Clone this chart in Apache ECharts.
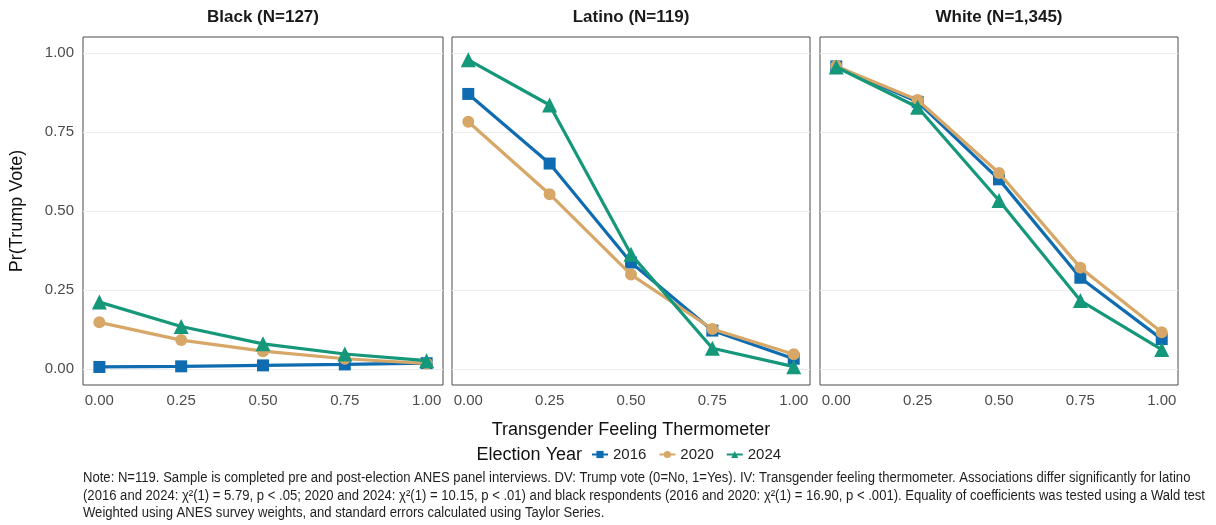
<!DOCTYPE html>
<html>
<head>
<meta charset="utf-8">
<script src="https://cdn.jsdelivr.net/npm/echarts@6/dist/echarts.min.js"></script>
<style>
  html, body { margin: 0; padding: 0; background: #ffffff; }
  #chart { width: 1216px; height: 525px; }
</style>
</head>
<body>
<div id="chart"></div>
<script>
// Thermometer positions (x) shared by every panel
const thermometer = [0, 0.25, 0.5, 0.75, 1];
const tickValues = [0, 0.25, 0.5, 0.75, 1];

const panelTitles = ['Black (N=127)', 'Latino (N=119)', 'White (N=1,345)'];
const years = ['2016', '2020', '2024'];

// Predicted Pr(Trump vote) by election year, one array per panel
const black2016 = [0.007, 0.009, 0.012, 0.015, 0.019];
const black2020 = [0.148, 0.092, 0.057, 0.033, 0.018];
const black2024 = [0.212, 0.135, 0.080, 0.048, 0.027];

const latino2016 = [0.870, 0.650, 0.337, 0.122, 0.033];
const latino2020 = [0.782, 0.553, 0.299, 0.127, 0.047];
const latino2024 = [0.978, 0.835, 0.363, 0.066, 0.008];

const white2016 = [0.957, 0.845, 0.600, 0.289, 0.095];
const white2020 = [0.958, 0.851, 0.620, 0.321, 0.117];
const white2024 = [0.955, 0.828, 0.533, 0.217, 0.062];

const panelData = [
  [black2016, black2020, black2024],
  [latino2016, latino2020, latino2024],
  [white2016, white2020, white2024]
];

const noteLines = [
  'Note: N=119. Sample is completed pre and post-election ANES panel interviews. DV: Trump vote (0=No, 1=Yes). IV: Transgender feeling thermometer. Associations differ significantly for latino',
  '(2016 and 2024: \u03c7\u00b2(1) = 5.79, p < .05; 2020 and 2024: \u03c7\u00b2(1) = 10.15, p < .01) and black respondents (2016 and 2020: \u03c7\u00b2(1) = 16.90, p < .001). Equality of coefficients was tested using a Wald test',
  'Weighted using ANES survey weights, and standard errors calculated using Taylor Series.'
];

const colors = { '2016': '#106cb0', '2020': '#d6a767', '2024': '#15977a' };
const symbols = { '2016': 'rect', '2020': 'circle', '2024': 'triangle' };
const symbolSizes = { '2016': 12, '2020': 12, '2024': 15 };

const FONT = '"Liberation Sans", Arial, Helvetica, sans-serif';

// Panel placement
const panels = [
  { left: 83, width: 360 },
  { left: 452, width: 358 },
  { left: 820, width: 358 }
];
const gridTop = 37, gridHeight = 348;

const grids = panels.map(p => ({
  left: p.left, top: gridTop, width: p.width, height: gridHeight,
  show: true, borderColor: '#4a4a4a', borderWidth: 1, backgroundColor: '#ffffff'
}));

const xAxes = panels.map((p, i) => ({
  type: 'value', gridIndex: i, min: -0.05, max: 1.05,
  axisLine: { show: false },
  axisTick: { show: false, customValues: tickValues },
  splitLine: { show: false },
  axisLabel: {
    customValues: tickValues, margin: 8,
    color: '#4d4d4d', fontSize: 15, fontFamily: FONT,
    formatter: v => v.toFixed(2)
  },
  name: i === 1 ? 'Transgender Feeling Thermometer' : '',
  nameLocation: 'middle', nameGap: 36,
  nameTextStyle: { color: '#111', fontSize: 18, fontFamily: FONT }
}));

const yAxes = panels.map((p, i) => ({
  type: 'value', gridIndex: i, min: -0.05, max: 1.05,
  axisLine: { show: false },
  axisTick: { show: false, customValues: tickValues },
  splitLine: { show: true, lineStyle: { color: '#ececec', width: 1 } },
  axisLabel: {
    show: i === 0, customValues: tickValues, margin: 9,
    color: '#4d4d4d', fontSize: 15, fontFamily: FONT,
    formatter: v => v.toFixed(2)
  },
  name: i === 0 ? 'Pr(Trump Vote)' : '',
  nameLocation: 'middle', nameGap: 57, nameRotate: 90,
  nameTextStyle: { color: '#111', fontSize: 18, fontFamily: FONT }
}));

const series = [];
panelData.forEach((sets, pi) => {
  sets.forEach((vals, yi) => {
    const yr = years[yi];
    series.push({
      name: yr, type: 'line', xAxisIndex: pi, yAxisIndex: pi,
      data: thermometer.map((x, k) => [x, vals[k]]),
      symbol: symbols[yr], symbolSize: symbolSizes[yr], showSymbol: true,
      lineStyle: { color: colors[yr], width: 3.2 },
      itemStyle: { color: colors[yr] },
      z: 2 + yi, animation: false, silent: true
    });
  });
});

const titles = panels.map((p, i) => ({
  text: panelTitles[i], left: p.left + p.width / 2, top: 9, padding: 0,
  textAlign: 'center',
  textStyle: { fontSize: 17, fontWeight: 'bold', color: '#1a1a1a', fontFamily: FONT }
}));

// Fit the note lines to the condensed width of the caption block
const noteFont = '14px ' + FONT;
const ctx = document.createElement('canvas').getContext('2d');
ctx.font = noteFont;
const noteScale = 1122 / ctx.measureText(noteLines[1]).width;
const noteY = [478, 496, 513];
const noteGraphics = noteLines.map((t, i) => ({
  type: 'text', x: 83, y: noteY[i], scaleX: noteScale,
  style: { text: t, fontSize: 14, fontFamily: FONT, fill: '#1f1f1f', verticalAlign: 'middle', align: 'left' }
}));

const chart = echarts.init(document.getElementById('chart'), null, { renderer: 'canvas' });
chart.setOption({
  backgroundColor: '#ffffff',
  animation: false,
  title: titles,
  grid: grids,
  xAxis: xAxes,
  yAxis: yAxes,
  series: series,
  legend: {
    data: years, left: 591, top: 447, padding: 0,
    itemWidth: 16, itemHeight: 9, itemGap: 12,
    textStyle: { fontSize: 15, color: '#222', fontFamily: FONT },
    selectedMode: false
  },
  graphic: [
    {
      type: 'text', x: 582, y: 455,
      style: { text: 'Election Year', fontSize: 18, fontFamily: FONT, fill: '#111', align: 'right', verticalAlign: 'middle' }
    }
  ].concat(noteGraphics)
});
</script>
</body>
</html>
